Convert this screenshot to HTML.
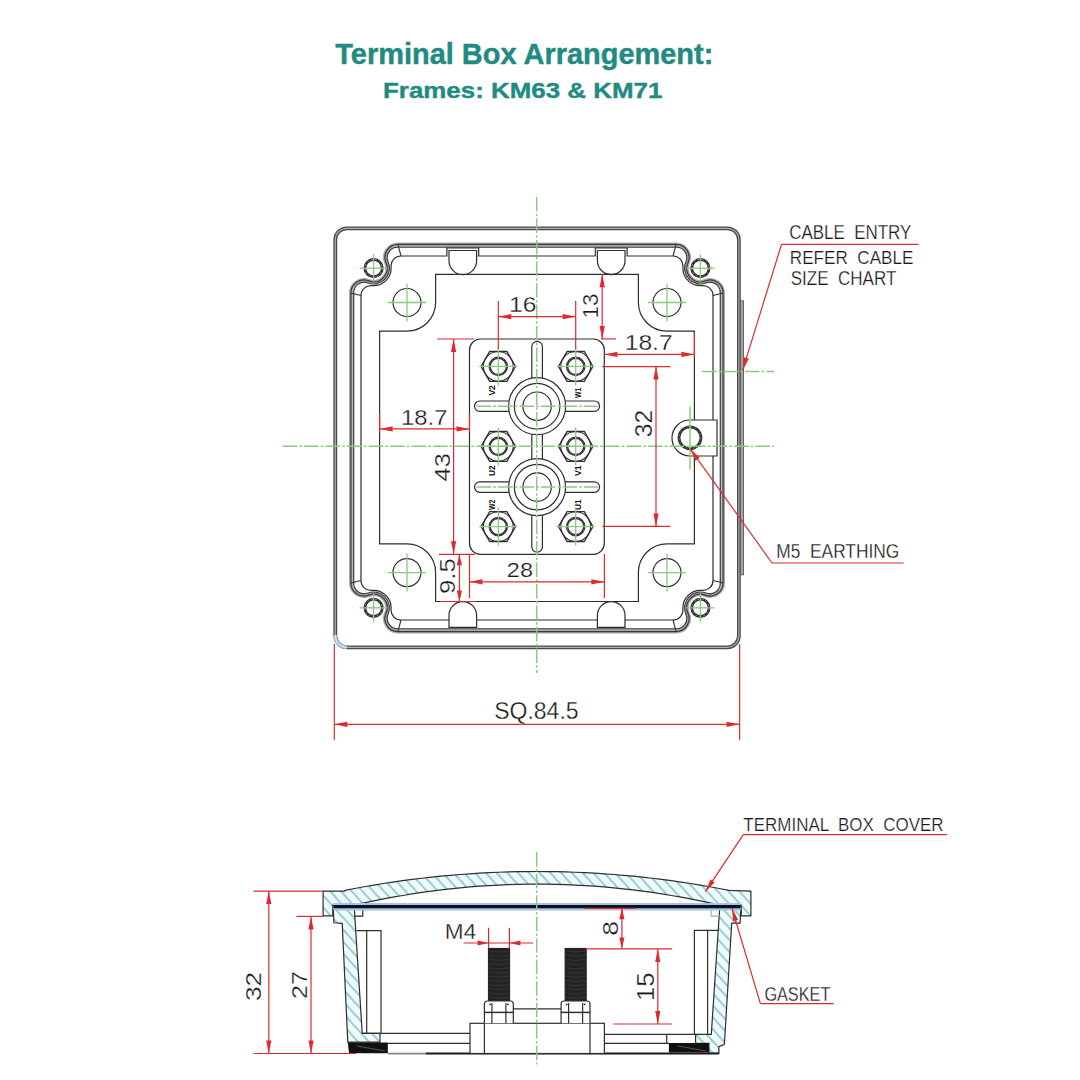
<!DOCTYPE html><html><head><meta charset="utf-8"><style>html,body{margin:0;padding:0;background:#fff;overflow:hidden;width:1080px;height:1080px}svg{display:block}</style></head><body>
<svg width="1080" height="1080" viewBox="0 0 1080 1080">
<defs><pattern id="hat" patternUnits="userSpaceOnUse" width="8" height="9" patternTransform="rotate(-42)"><rect width="8" height="9" fill="#effbfb"/><line x1="1" y1="0" x2="1" y2="9" stroke="#52aab4" stroke-width="1.1"/></pattern></defs>
<rect width="1080" height="1080" fill="#fff"/>
<text x="335.3" y="63.6" font-family="Liberation Sans" font-size="29.58" font-weight="bold" fill="#1f8b82" text-anchor="start" style="white-space:pre" textLength="377.98" lengthAdjust="spacingAndGlyphs" stroke="#1f8b82" stroke-width="0.45" stroke-linejoin="round">Terminal Box Arrangement:</text>
<text x="383.04" y="98.2" font-family="Liberation Sans" font-size="22.87" font-weight="bold" fill="#1f8b82" text-anchor="start" style="white-space:pre" textLength="279.27" lengthAdjust="spacingAndGlyphs" stroke="#1f8b82" stroke-width="0.4" stroke-linejoin="round">Frames: KM63 &amp; KM71</text>
<rect x="335.3" y="228.3" width="403.6" height="419" rx="11.5" fill="none" stroke="#4a4a4a" stroke-width="3.8"/>
<rect x="335.3" y="228.3" width="403.6" height="419" rx="11.5" fill="none" stroke="#b0b0b0" stroke-width="1.2"/>
<path d="M 335.3 635 A 11.5 11.5 0 0 0 346.8 647.3" fill="none" stroke="#a9c9e4" stroke-width="3.2"/>
<path d="M 335.3 635 A 11.5 11.5 0 0 0 346.8 647.3" fill="none" stroke="#cfe3f3" stroke-width="1.3"/>
<rect x="740.6" y="300.8" width="2.9" height="274" fill="#a8a8a8" stroke="#555" stroke-width="0.9"/>
<path d="M 676.09 244.4 L 397.91 244.4 A 13 13 0 0 0 386.03 262.68 A 13.6 13.6 0 0 1 368.64 280.86 A 13 13 0 0 0 350.9 292.97 L 350.9 583.03 A 13 13 0 0 0 368.64 595.14 A 13.6 13.6 0 0 1 386.03 613.32 A 13 13 0 0 0 397.91 631.6 L 676.09 631.6 A 13 13 0 0 0 687.97 613.32 A 13.6 13.6 0 0 1 705.36 595.14 A 13 13 0 0 0 723.1 583.03 L 723.1 292.97 A 13 13 0 0 0 705.36 280.86 A 13.6 13.6 0 0 1 687.97 262.68 A 13 13 0 0 0 676.09 244.4 Z" fill="none" stroke="#aaa" stroke-width="3.8"/>
<path d="M 676.09 244.4 L 397.91 244.4 A 13 13 0 0 0 386.03 262.68 A 13.6 13.6 0 0 1 368.64 280.86 A 13 13 0 0 0 350.9 292.97 L 350.9 583.03 A 13 13 0 0 0 368.64 595.14 A 13.6 13.6 0 0 1 386.03 613.32 A 13 13 0 0 0 397.91 631.6 L 676.09 631.6 A 13 13 0 0 0 687.97 613.32 A 13.6 13.6 0 0 1 705.36 595.14 A 13 13 0 0 0 723.1 583.03 L 723.1 292.97 A 13 13 0 0 0 705.36 280.86 A 13.6 13.6 0 0 1 687.97 262.68 A 13 13 0 0 0 676.09 244.4 Z" fill="none" stroke="#3a3a3a" stroke-width="1.2"/>
<path d="M 676.29 247.2 L 397.71 247.2 A 10.5 10.5 0 0 0 388.09 261.89 A 15.8 15.8 0 0 1 367.95 282.96 A 10.5 10.5 0 0 0 353.7 292.76 L 353.7 583.24 A 10.5 10.5 0 0 0 367.95 593.04 A 15.8 15.8 0 0 1 388.09 614.11 A 10.5 10.5 0 0 0 397.71 628.8 L 676.29 628.8 A 10.5 10.5 0 0 0 685.91 614.11 A 15.8 15.8 0 0 1 706.05 593.04 A 10.5 10.5 0 0 0 720.3 583.24 L 720.3 292.76 A 10.5 10.5 0 0 0 706.05 282.96 A 15.8 15.8 0 0 1 685.91 261.89 A 10.5 10.5 0 0 0 676.29 247.2 Z" fill="none" stroke="#3a3a3a" stroke-width="1.2"/>
<path d="M 672.99 256 L 401.01 256 A 10 10 0 0 0 391.04 266.8 A 17.5 17.5 0 0 1 371.95 285.62 A 10 10 0 0 0 361 295.58 L 361 580.42 A 10 10 0 0 0 371.95 590.38 A 17.5 17.5 0 0 1 391.04 609.2 A 10 10 0 0 0 401.01 620 L 672.99 620 A 10 10 0 0 0 682.96 609.2 A 17.5 17.5 0 0 1 702.05 590.38 A 10 10 0 0 0 713 580.42 L 713 295.58 A 10 10 0 0 0 702.05 285.62 A 17.5 17.5 0 0 1 682.96 266.8 A 10 10 0 0 0 672.99 256 Z" fill="none" stroke="#2e2e2e" stroke-width="1.2"/>
<line x1="397.91" y1="244.4" x2="401.01" y2="256" stroke="#2e2e2e" stroke-width="1.1" />
<line x1="350.9" y1="292.97" x2="361" y2="295.58" stroke="#2e2e2e" stroke-width="1.1" />
<line x1="397.91" y1="631.6" x2="401.01" y2="620" stroke="#2e2e2e" stroke-width="1.1" />
<line x1="350.9" y1="583.03" x2="361" y2="580.42" stroke="#2e2e2e" stroke-width="1.1" />
<line x1="676.09" y1="244.4" x2="672.99" y2="256" stroke="#2e2e2e" stroke-width="1.1" />
<line x1="723.1" y1="292.97" x2="713" y2="295.58" stroke="#2e2e2e" stroke-width="1.1" />
<line x1="676.09" y1="631.6" x2="672.99" y2="620" stroke="#2e2e2e" stroke-width="1.1" />
<line x1="723.1" y1="583.03" x2="713" y2="580.42" stroke="#2e2e2e" stroke-width="1.1" />
<rect x="446.9" y="248" width="31.8" height="8.5" fill="#fff"/>
<path d="M 446.9 256 V 248 H 478.7 V 256" fill="none" stroke="#2e2e2e" stroke-width="1.2"/>
<path d="M 449 250.5 H 476.6 V 260.8 A 13.8 13.8 0 0 1 449 260.8 Z" fill="#fff" stroke="#2e2e2e" stroke-width="1.2"/>
<path d="M 449 627.3 V 615.4 A 13.8 13.8 0 0 1 476.6 615.4 V 627.3 Z" fill="#fff" stroke="#2e2e2e" stroke-width="1.2"/>
<rect x="595.3" y="248" width="31.8" height="8.5" fill="#fff"/>
<path d="M 595.3 256 V 248 H 627.1 V 256" fill="none" stroke="#2e2e2e" stroke-width="1.2"/>
<path d="M 597.4 250.5 H 625 V 260.8 A 13.8 13.8 0 0 1 597.4 260.8 Z" fill="#fff" stroke="#2e2e2e" stroke-width="1.2"/>
<path d="M 597.4 627.3 V 615.4 A 13.8 13.8 0 0 1 625 615.4 V 627.3 Z" fill="#fff" stroke="#2e2e2e" stroke-width="1.2"/>
<path d="M 435.6 274.3 H 638.4 V 302.5 A 28.6 28.6 0 0 0 667 331.1 H 694.4 V 543.9 H 667 A 28.6 28.6 0 0 0 638.4 572.5 V 601.5 H 435.6 V 572.5 A 28.6 28.6 0 0 0 407 543.9 H 379.6 V 331.1 H 407 A 28.6 28.6 0 0 0 435.6 302.5 Z" fill="none" stroke="#2e2e2e" stroke-width="1.2"/>
<path d="M 717 420 H 690 A 18 18 0 0 0 672 438 A 18 18 0 0 0 690 456 H 717 Z" fill="#fff" stroke="#2e2e2e" stroke-width="1.2"/>
<circle cx="690" cy="437.8" r="11" fill="none" stroke="#2e2e2e" stroke-width="2.8"/>
<circle cx="690" cy="437.8" r="11" fill="none" stroke="#999" stroke-width="0.7" stroke-dasharray="2 2"/>
<circle cx="407" cy="302.5" r="14" fill="none" stroke="#2e2e2e" stroke-width="1.2"/>
<circle cx="667" cy="302.5" r="14" fill="none" stroke="#2e2e2e" stroke-width="1.2"/>
<circle cx="407" cy="572.6" r="14" fill="none" stroke="#2e2e2e" stroke-width="1.2"/>
<circle cx="667" cy="572.6" r="14" fill="none" stroke="#2e2e2e" stroke-width="1.2"/>
<circle cx="373.6" cy="268.2" r="8.7" fill="none" stroke="#2e2e2e" stroke-width="2.8"/>
<circle cx="373.6" cy="268.2" r="8.7" fill="none" stroke="#bbb" stroke-width="0.7" stroke-dasharray="2 2.2"/>
<circle cx="700.4" cy="268.2" r="8.7" fill="none" stroke="#2e2e2e" stroke-width="2.8"/>
<circle cx="700.4" cy="268.2" r="8.7" fill="none" stroke="#bbb" stroke-width="0.7" stroke-dasharray="2 2.2"/>
<circle cx="373.6" cy="607.8" r="8.7" fill="none" stroke="#2e2e2e" stroke-width="2.8"/>
<circle cx="373.6" cy="607.8" r="8.7" fill="none" stroke="#bbb" stroke-width="0.7" stroke-dasharray="2 2.2"/>
<circle cx="700.4" cy="607.8" r="8.7" fill="none" stroke="#2e2e2e" stroke-width="2.8"/>
<circle cx="700.4" cy="607.8" r="8.7" fill="none" stroke="#bbb" stroke-width="0.7" stroke-dasharray="2 2.2"/>
<rect x="469.5" y="339" width="134.8" height="215.3" rx="11" fill="#fff" stroke="#2e2e2e" stroke-width="1.2"/>
<rect x="531.8" y="341.3" width="10.6" height="48.7" rx="5.3" fill="#fff" stroke="#2e2e2e" stroke-width="1.2"/>
<rect x="531.8" y="420" width="10.6" height="50" rx="5.3" fill="#fff" stroke="#2e2e2e" stroke-width="1.2"/>
<rect x="531.8" y="500" width="10.6" height="52.2" rx="5.3" fill="#fff" stroke="#2e2e2e" stroke-width="1.2"/>
<rect x="474.5" y="401" width="45.5" height="10.4" rx="5.2" fill="#fff" stroke="#2e2e2e" stroke-width="1.2"/>
<rect x="554" y="401" width="45.6" height="10.4" rx="5.2" fill="#fff" stroke="#2e2e2e" stroke-width="1.2"/>
<rect x="474.5" y="481.9" width="45.5" height="10.4" rx="5.2" fill="#fff" stroke="#2e2e2e" stroke-width="1.2"/>
<rect x="554" y="481.9" width="45.6" height="10.4" rx="5.2" fill="#fff" stroke="#2e2e2e" stroke-width="1.2"/>
<circle cx="537.1" cy="406.2" r="28.5" fill="#fff" stroke="#2e2e2e" stroke-width="1.2"/>
<circle cx="537.1" cy="406.2" r="22.8" fill="none" stroke="#2e2e2e" stroke-width="1.2"/>
<circle cx="537.1" cy="406.2" r="14.2" fill="none" stroke="#2e2e2e" stroke-width="1.2"/>
<circle cx="537.1" cy="487.1" r="28.5" fill="#fff" stroke="#2e2e2e" stroke-width="1.2"/>
<circle cx="537.1" cy="487.1" r="22.8" fill="none" stroke="#2e2e2e" stroke-width="1.2"/>
<circle cx="537.1" cy="487.1" r="14.2" fill="none" stroke="#2e2e2e" stroke-width="1.2"/>
<polygon points="515.5,366.4 506.9,381.3 489.7,381.3 481.1,366.4 489.7,351.5 506.9,351.5" fill="#fff" stroke="#2e2e2e" stroke-width="1.3"/>
<circle cx="498.3" cy="366.4" r="8.6" fill="none" stroke="#2e2e2e" stroke-width="2.4"/>
<circle cx="498.3" cy="366.4" r="8.6" fill="none" stroke="#999" stroke-width="0.6" stroke-dasharray="1.5 1.5"/>
<circle cx="498.3" cy="366.4" r="14.9" fill="none" stroke="#2e2e2e" stroke-width="1.1"/>
<polygon points="592.9,366.4 584.3,381.3 567.1,381.3 558.5,366.4 567.1,351.5 584.3,351.5" fill="#fff" stroke="#2e2e2e" stroke-width="1.3"/>
<circle cx="575.7" cy="366.4" r="8.6" fill="none" stroke="#2e2e2e" stroke-width="2.4"/>
<circle cx="575.7" cy="366.4" r="8.6" fill="none" stroke="#999" stroke-width="0.6" stroke-dasharray="1.5 1.5"/>
<circle cx="575.7" cy="366.4" r="14.9" fill="none" stroke="#2e2e2e" stroke-width="1.1"/>
<polygon points="515.5,446.4 506.9,461.3 489.7,461.3 481.1,446.4 489.7,431.5 506.9,431.5" fill="#fff" stroke="#2e2e2e" stroke-width="1.3"/>
<circle cx="498.3" cy="446.4" r="8.6" fill="none" stroke="#2e2e2e" stroke-width="2.4"/>
<circle cx="498.3" cy="446.4" r="8.6" fill="none" stroke="#999" stroke-width="0.6" stroke-dasharray="1.5 1.5"/>
<circle cx="498.3" cy="446.4" r="14.9" fill="none" stroke="#2e2e2e" stroke-width="1.1"/>
<polygon points="592.9,446.4 584.3,461.3 567.1,461.3 558.5,446.4 567.1,431.5 584.3,431.5" fill="#fff" stroke="#2e2e2e" stroke-width="1.3"/>
<circle cx="575.7" cy="446.4" r="8.6" fill="none" stroke="#2e2e2e" stroke-width="2.4"/>
<circle cx="575.7" cy="446.4" r="8.6" fill="none" stroke="#999" stroke-width="0.6" stroke-dasharray="1.5 1.5"/>
<circle cx="575.7" cy="446.4" r="14.9" fill="none" stroke="#2e2e2e" stroke-width="1.1"/>
<polygon points="515.5,526.6 506.9,541.5 489.7,541.5 481.1,526.6 489.7,511.7 506.9,511.7" fill="#fff" stroke="#2e2e2e" stroke-width="1.3"/>
<circle cx="498.3" cy="526.6" r="8.6" fill="none" stroke="#2e2e2e" stroke-width="2.4"/>
<circle cx="498.3" cy="526.6" r="8.6" fill="none" stroke="#999" stroke-width="0.6" stroke-dasharray="1.5 1.5"/>
<circle cx="498.3" cy="526.6" r="14.9" fill="none" stroke="#2e2e2e" stroke-width="1.1"/>
<polygon points="592.9,526.6 584.3,541.5 567.1,541.5 558.5,526.6 567.1,511.7 584.3,511.7" fill="#fff" stroke="#2e2e2e" stroke-width="1.3"/>
<circle cx="575.7" cy="526.6" r="8.6" fill="none" stroke="#2e2e2e" stroke-width="2.4"/>
<circle cx="575.7" cy="526.6" r="8.6" fill="none" stroke="#999" stroke-width="0.6" stroke-dasharray="1.5 1.5"/>
<circle cx="575.7" cy="526.6" r="14.9" fill="none" stroke="#2e2e2e" stroke-width="1.1"/>
<text x="494.8" y="395.6" font-family="Liberation Sans" font-size="9.5" font-weight="bold" fill="#111" text-anchor="start" style="white-space:pre" transform="rotate(-90 494.8 395.6)" textLength="10.5" lengthAdjust="spacingAndGlyphs" >V2</text>
<text x="581.2" y="398" font-family="Liberation Sans" font-size="9.5" font-weight="bold" fill="#111" text-anchor="start" style="white-space:pre" transform="rotate(-90 581.2 398)" textLength="10.5" lengthAdjust="spacingAndGlyphs" >W1</text>
<text x="494.8" y="476" font-family="Liberation Sans" font-size="9.5" font-weight="bold" fill="#111" text-anchor="start" style="white-space:pre" transform="rotate(-90 494.8 476)" textLength="10.5" lengthAdjust="spacingAndGlyphs" >U2</text>
<text x="581.2" y="476" font-family="Liberation Sans" font-size="9.5" font-weight="bold" fill="#111" text-anchor="start" style="white-space:pre" transform="rotate(-90 581.2 476)" textLength="10.5" lengthAdjust="spacingAndGlyphs" >V1</text>
<text x="494.8" y="510" font-family="Liberation Sans" font-size="9.5" font-weight="bold" fill="#111" text-anchor="start" style="white-space:pre" transform="rotate(-90 494.8 510)" textLength="10.5" lengthAdjust="spacingAndGlyphs" >W2</text>
<text x="581.2" y="510" font-family="Liberation Sans" font-size="9.5" font-weight="bold" fill="#111" text-anchor="start" style="white-space:pre" transform="rotate(-90 581.2 510)" textLength="10.5" lengthAdjust="spacingAndGlyphs" >U1</text>
<line x1="536.7" y1="197" x2="536.7" y2="673" stroke="#8cc882" stroke-width="1.45" stroke-dasharray="14.5 2.2 2.6 2.2"/>
<line x1="282.6" y1="446.3" x2="774" y2="446.3" stroke="#8cc882" stroke-width="1.45" stroke-dasharray="14.5 2.2 2.6 2.2"/>
<line x1="702" y1="371.5" x2="774" y2="371.5" stroke="#8cc882" stroke-width="1.45" stroke-dasharray="14.5 2.2 2.6 2.2"/>
<line x1="479.3" y1="366.4" x2="517.3" y2="366.4" stroke="#8cc882" stroke-width="1.3"/>
<line x1="498.3" y1="347.4" x2="498.3" y2="385.4" stroke="#8cc882" stroke-width="1.3"/>
<line x1="556.7" y1="366.4" x2="594.7" y2="366.4" stroke="#8cc882" stroke-width="1.3"/>
<line x1="575.7" y1="347.4" x2="575.7" y2="385.4" stroke="#8cc882" stroke-width="1.3"/>
<line x1="479.3" y1="446.4" x2="517.3" y2="446.4" stroke="#8cc882" stroke-width="1.3"/>
<line x1="498.3" y1="427.4" x2="498.3" y2="465.4" stroke="#8cc882" stroke-width="1.3"/>
<line x1="556.7" y1="446.4" x2="594.7" y2="446.4" stroke="#8cc882" stroke-width="1.3"/>
<line x1="575.7" y1="427.4" x2="575.7" y2="465.4" stroke="#8cc882" stroke-width="1.3"/>
<line x1="479.3" y1="526.6" x2="517.3" y2="526.6" stroke="#8cc882" stroke-width="1.3"/>
<line x1="498.3" y1="507.6" x2="498.3" y2="545.6" stroke="#8cc882" stroke-width="1.3"/>
<line x1="556.7" y1="526.6" x2="594.7" y2="526.6" stroke="#8cc882" stroke-width="1.3"/>
<line x1="575.7" y1="507.6" x2="575.7" y2="545.6" stroke="#8cc882" stroke-width="1.3"/>
<line x1="388" y1="302.5" x2="426" y2="302.5" stroke="#8cc882" stroke-width="1.3"/>
<line x1="407" y1="283.5" x2="407" y2="321.5" stroke="#8cc882" stroke-width="1.3"/>
<line x1="648" y1="302.5" x2="686" y2="302.5" stroke="#8cc882" stroke-width="1.3"/>
<line x1="667" y1="283.5" x2="667" y2="321.5" stroke="#8cc882" stroke-width="1.3"/>
<line x1="388" y1="572.6" x2="426" y2="572.6" stroke="#8cc882" stroke-width="1.3"/>
<line x1="407" y1="553.6" x2="407" y2="591.6" stroke="#8cc882" stroke-width="1.3"/>
<line x1="648" y1="572.6" x2="686" y2="572.6" stroke="#8cc882" stroke-width="1.3"/>
<line x1="667" y1="553.6" x2="667" y2="591.6" stroke="#8cc882" stroke-width="1.3"/>
<line x1="359.6" y1="268.2" x2="387.6" y2="268.2" stroke="#8cc882" stroke-width="1.3"/>
<line x1="373.6" y1="254.2" x2="373.6" y2="282.2" stroke="#8cc882" stroke-width="1.3"/>
<line x1="686.4" y1="268.2" x2="714.4" y2="268.2" stroke="#8cc882" stroke-width="1.3"/>
<line x1="700.4" y1="254.2" x2="700.4" y2="282.2" stroke="#8cc882" stroke-width="1.3"/>
<line x1="359.6" y1="607.8" x2="387.6" y2="607.8" stroke="#8cc882" stroke-width="1.3"/>
<line x1="373.6" y1="593.8" x2="373.6" y2="621.8" stroke="#8cc882" stroke-width="1.3"/>
<line x1="686.4" y1="607.8" x2="714.4" y2="607.8" stroke="#8cc882" stroke-width="1.3"/>
<line x1="700.4" y1="593.8" x2="700.4" y2="621.8" stroke="#8cc882" stroke-width="1.3"/>
<line x1="537.1" y1="406.2" x2="537.1" y2="406.2" stroke="#8cc882" stroke-width="1.3"/>
<line x1="537.1" y1="406.2" x2="537.1" y2="406.2" stroke="#8cc882" stroke-width="1.3"/>
<line x1="476.5" y1="406.2" x2="598" y2="406.2" stroke="#8cc882" stroke-width="1.5" stroke-dasharray="14.5 2.2 2.6 2.2"/>
<line x1="537.1" y1="487.1" x2="537.1" y2="487.1" stroke="#8cc882" stroke-width="1.3"/>
<line x1="537.1" y1="487.1" x2="537.1" y2="487.1" stroke="#8cc882" stroke-width="1.3"/>
<line x1="476.5" y1="487.1" x2="598" y2="487.1" stroke="#8cc882" stroke-width="1.5" stroke-dasharray="14.5 2.2 2.6 2.2"/>
<line x1="690" y1="406.5" x2="690" y2="469.5" stroke="#8cc882" stroke-width="1.5" />
<line x1="498.3" y1="301" x2="498.3" y2="349" stroke="#dd2a2f" stroke-width="1.2" />
<line x1="575.7" y1="301" x2="575.7" y2="349" stroke="#dd2a2f" stroke-width="1.2" />
<line x1="498.3" y1="316.7" x2="575.7" y2="316.7" stroke="#dd2a2f" stroke-width="1.2" />
<polygon points="498.3,316.7 511.3,314.1 511.3,319.3" fill="#dd2a2f"/>
<polygon points="575.7,316.7 562.7,319.3 562.7,314.1" fill="#dd2a2f"/>
<text x="509.03" y="312.2" stroke="#fff" stroke-width="0.25833333333333336" font-family="Liberation Sans" font-size="21.53" font-weight="normal" fill="#1a1a1a" text-anchor="start" style="white-space:pre" textLength="27.37" lengthAdjust="spacingAndGlyphs" >16</text>
<line x1="602.2" y1="274.3" x2="602.2" y2="338.9" stroke="#dd2a2f" stroke-width="1.2" />
<line x1="601" y1="338.9" x2="616" y2="338.9" stroke="#dd2a2f" stroke-width="1.2" />
<polygon points="602.2,274.3 604.8,287.3 599.6,287.3" fill="#dd2a2f"/>
<polygon points="602.2,338.9 599.6,325.9 604.8,325.9" fill="#dd2a2f"/>
<text x="597.8" y="318.48" stroke="#fff" stroke-width="0.26333333333333253" font-family="Liberation Sans" font-size="21.94" font-weight="normal" fill="#1a1a1a" text-anchor="start" style="white-space:pre" transform="rotate(-90 597.8 318.48)" textLength="24.81" lengthAdjust="spacingAndGlyphs" >13</text>
<line x1="604.4" y1="354.4" x2="694.4" y2="354.4" stroke="#dd2a2f" stroke-width="1.2" />
<line x1="694.4" y1="332" x2="694.4" y2="357" stroke="#dd2a2f" stroke-width="1.2" />
<polygon points="604.4,354.4 617.4,351.8 617.4,357" fill="#dd2a2f"/>
<polygon points="694.4,354.4 681.4,357 681.4,351.8" fill="#dd2a2f"/>
<text x="624.73" y="350" stroke="#fff" stroke-width="0.26000000000000034" font-family="Liberation Sans" font-size="21.67" font-weight="normal" fill="#1a1a1a" text-anchor="start" style="white-space:pre" textLength="47.91" lengthAdjust="spacingAndGlyphs" >18.7</text>
<line x1="602.3" y1="366.6" x2="670.5" y2="366.6" stroke="#dd2a2f" stroke-width="1.2" />
<line x1="602.3" y1="526.4" x2="670.5" y2="526.4" stroke="#dd2a2f" stroke-width="1.2" />
<line x1="656" y1="366.6" x2="656" y2="526.4" stroke="#dd2a2f" stroke-width="1.2" />
<polygon points="656,366.6 658.6,379.6 653.4,379.6" fill="#dd2a2f"/>
<polygon points="656,526.4 653.4,513.4 658.6,513.4" fill="#dd2a2f"/>
<text x="652.4" y="437.18" stroke="#fff" stroke-width="0.2783333333333322" font-family="Liberation Sans" font-size="23.19" font-weight="normal" fill="#1a1a1a" text-anchor="start" style="white-space:pre" transform="rotate(-90 652.4 437.18)" textLength="27.28" lengthAdjust="spacingAndGlyphs" >32</text>
<line x1="379.6" y1="428.9" x2="469.5" y2="428.9" stroke="#dd2a2f" stroke-width="1.2" />
<line x1="379.6" y1="414" x2="379.6" y2="432" stroke="#dd2a2f" stroke-width="1.2" />
<line x1="469.5" y1="414" x2="469.5" y2="432" stroke="#dd2a2f" stroke-width="1.2" />
<polygon points="379.6,428.9 392.6,426.3 392.6,431.5" fill="#dd2a2f"/>
<polygon points="469.5,428.9 456.5,431.5 456.5,426.3" fill="#dd2a2f"/>
<text x="401.1" y="425" stroke="#fff" stroke-width="0.27499999999999997" font-family="Liberation Sans" font-size="22.92" font-weight="normal" fill="#1a1a1a" text-anchor="start" style="white-space:pre" textLength="46.29" lengthAdjust="spacingAndGlyphs" >18.7</text>
<line x1="437" y1="339" x2="474" y2="339" stroke="#dd2a2f" stroke-width="1.2" />
<line x1="453.6" y1="339" x2="453.6" y2="554.3" stroke="#dd2a2f" stroke-width="1.2" />
<polygon points="453.6,339 456.2,352 451,352" fill="#dd2a2f"/>
<polygon points="453.6,554.3 451,541.3 456.2,541.3" fill="#dd2a2f"/>
<line x1="439" y1="554.3" x2="475" y2="554.3" stroke="#dd2a2f" stroke-width="1.2" />
<text x="449.7" y="481.42" stroke="#fff" stroke-width="0.26166666666666644" font-family="Liberation Sans" font-size="21.81" font-weight="normal" fill="#1a1a1a" text-anchor="start" style="white-space:pre" transform="rotate(-90 449.7 481.42)" textLength="28.24" lengthAdjust="spacingAndGlyphs" >43</text>
<line x1="459.4" y1="554.3" x2="459.4" y2="601.5" stroke="#dd2a2f" stroke-width="1.2" />
<polygon points="459.4,554.3 462,565.3 456.8,565.3" fill="#dd2a2f"/>
<polygon points="459.4,601.5 456.8,590.5 462,590.5" fill="#dd2a2f"/>
<line x1="440" y1="601.5" x2="475.6" y2="601.5" stroke="#dd2a2f" stroke-width="1.0" />
<text x="455.5" y="594.03" stroke="#fff" stroke-width="0.27499999999999997" font-family="Liberation Sans" font-size="22.92" font-weight="normal" fill="#1a1a1a" text-anchor="start" style="white-space:pre" transform="rotate(-90 455.5 594.03)" textLength="35.82" lengthAdjust="spacingAndGlyphs" >9.5</text>
<line x1="469.5" y1="554" x2="469.5" y2="598" stroke="#dd2a2f" stroke-width="1.2" />
<line x1="604.4" y1="554" x2="604.4" y2="598" stroke="#dd2a2f" stroke-width="1.2" />
<line x1="469.5" y1="581.8" x2="604.4" y2="581.8" stroke="#dd2a2f" stroke-width="1.2" />
<polygon points="469.5,581.8 482.5,579.2 482.5,584.4" fill="#dd2a2f"/>
<polygon points="604.4,581.8 591.4,584.4 591.4,579.2" fill="#dd2a2f"/>
<text x="506.86" y="576.7" stroke="#fff" stroke-width="0.24166666666666667" font-family="Liberation Sans" font-size="20.14" font-weight="normal" fill="#1a1a1a" text-anchor="start" style="white-space:pre" textLength="26.1" lengthAdjust="spacingAndGlyphs" >28</text>
<line x1="334.3" y1="644" x2="334.3" y2="739.8" stroke="#dd2a2f" stroke-width="1.2" />
<line x1="739.6" y1="644" x2="739.6" y2="739.8" stroke="#dd2a2f" stroke-width="1.2" />
<line x1="334.3" y1="724.3" x2="739.6" y2="724.3" stroke="#dd2a2f" stroke-width="1.2" />
<polygon points="334.3,724.3 347.3,721.7 347.3,726.9" fill="#dd2a2f"/>
<polygon points="739.6,724.3 726.6,726.9 726.6,721.7" fill="#dd2a2f"/>
<text x="494.16" y="718.9" stroke="#fff" stroke-width="0.2866666666666655" font-family="Liberation Sans" font-size="23.89" font-weight="normal" fill="#1a1a1a" text-anchor="start" style="white-space:pre" textLength="84.42" lengthAdjust="spacingAndGlyphs" >SQ.84.5</text>
<line x1="781.5" y1="244.4" x2="918.5" y2="244.4" stroke="#dd2a2f" stroke-width="1.2" />
<line x1="781.5" y1="244.4" x2="742.6" y2="370.4" stroke="#dd2a2f" stroke-width="1.2" />
<polygon points="742.6,370.4 743.95,357.21 748.92,358.75" fill="#dd2a2f"/>
<text x="789.15" y="239.4" stroke="#fff" stroke-width="0.25" font-family="Liberation Sans" font-size="20" font-weight="normal" fill="#1a1a1a" text-anchor="start" style="white-space:pre" textLength="122.2" lengthAdjust="spacingAndGlyphs" >CABLE  ENTRY</text>
<text x="789.79" y="264" stroke="#fff" stroke-width="0.23928571428571438" font-family="Liberation Sans" font-size="19.14" font-weight="normal" fill="#1a1a1a" text-anchor="start" style="white-space:pre" textLength="123.63" lengthAdjust="spacingAndGlyphs" >REFER  CABLE</text>
<text x="790.65" y="284.6" stroke="#fff" stroke-width="0.25" font-family="Liberation Sans" font-size="20" font-weight="normal" fill="#1a1a1a" text-anchor="start" style="white-space:pre" textLength="105.73" lengthAdjust="spacingAndGlyphs" >SIZE  CHART</text>
<line x1="772" y1="563" x2="903.7" y2="563" stroke="#dd2a2f" stroke-width="1.2" />
<line x1="772" y1="563" x2="690" y2="448.6" stroke="#dd2a2f" stroke-width="1.2" />
<polygon points="690,448.6 699.69,457.65 695.46,460.68" fill="#dd2a2f"/>
<text x="776.27" y="558.3" stroke="#fff" stroke-width="0.25357142857142734" font-family="Liberation Sans" font-size="20.29" font-weight="normal" fill="#1a1a1a" text-anchor="start" style="white-space:pre" textLength="123.06" lengthAdjust="spacingAndGlyphs" >M5  EARTHING</text>
<path d="M 323.1 891.1 L 345 891.1 L 345 890.3 L 354.6 888.47 L 364.2 886.73 L 373.8 885.08 L 383.4 883.53 L 393 882.08 L 402.6 880.71 L 412.2 879.44 L 421.8 878.27 L 431.4 877.19 L 441 876.2 L 450.6 875.31 L 460.2 874.51 L 469.8 873.8 L 479.4 873.19 L 489 872.68 L 498.6 872.25 L 508.2 871.92 L 517.8 871.69 L 527.4 871.55 L 537 871.5 L 546.6 871.55 L 556.2 871.69 L 565.8 871.92 L 575.4 872.25 L 585 872.68 L 594.6 873.19 L 604.2 873.8 L 613.8 874.51 L 623.4 875.31 L 633 876.2 L 642.6 877.19 L 652.2 878.27 L 661.8 879.44 L 671.4 880.71 L 681 882.08 L 690.6 883.53 L 700.2 885.08 L 709.8 886.73 L 719.4 888.47 L 729 890.3 L 750.9 891.1 L 750.9 915.9 L 741.2 915.9 L 741.2 905 L 729 904.5 L 719.4 904.5 L 709.8 902.91 L 700.2 900.88 L 690.6 898.96 L 681 897.16 L 671.4 895.48 L 661.8 893.91 L 652.2 892.46 L 642.6 891.13 L 633 889.91 L 623.4 888.8 L 613.8 887.82 L 604.2 886.94 L 594.6 886.19 L 585 885.55 L 575.4 885.03 L 565.8 884.62 L 556.2 884.33 L 546.6 884.16 L 537 884.1 L 527.4 884.16 L 517.8 884.33 L 508.2 884.62 L 498.6 885.03 L 489 885.55 L 479.4 886.19 L 469.8 886.94 L 460.2 887.82 L 450.6 888.8 L 441 889.91 L 431.4 891.13 L 421.8 892.46 L 412.2 893.91 L 402.6 895.48 L 393 897.16 L 383.4 898.96 L 373.8 900.88 L 364.2 902.91 L 354.6 904.5 L 345 904.5 L 332.8 905 L 332.8 915.9 L 323.1 915.9 Z" fill="url(#hat)" stroke="#2e2e2e" stroke-width="1.2" stroke-linejoin="round"/>
<polygon points="333.3,909.5 333.9,922.8 342.2,923.3 347.8,1042.2 380,1042.2 380,1033.3 362.2,1033.3 354.4,909.5" fill="url(#hat)" stroke="#2e2e2e" stroke-width="1.2"/>
<polygon points="740.7,909.5 740.1,923.2 731.7,923.2 724.4,1044.4 718.9,1046.7 718.9,1053.3 708.9,1053.3 708.9,1043.3 695.6,1043.3 695.6,1034.4 711.3,1034.3 719.6,909.5" fill="url(#hat)" stroke="#2e2e2e" stroke-width="1.2"/>
<path d="M 354.4 916.1 H 362.8 V 909.5" fill="none" stroke="#2e2e2e" stroke-width="1.2"/>
<path d="M 719.6 916.1 H 711.2 V 909.5" fill="none" stroke="#8fb3d6" stroke-width="1.2"/>
<line x1="333.3" y1="906.7" x2="740.7" y2="906.7" stroke="#a9c3e0" stroke-width="7.5"/>
<line x1="333.3" y1="906.7" x2="740.7" y2="906.7" stroke="#0b1024" stroke-width="3.2"/>
<path d="M 356.5 930.7 H 381 V 1033.3 M 366.7 930.7 V 1033.3" fill="none" stroke="#2e2e2e" stroke-width="1.2"/>
<path d="M 718.6 930.3 H 694.4 V 1034.4 M 707.6 930.3 V 1034.4" fill="none" stroke="#2e2e2e" stroke-width="1.2"/>
<line x1="362.2" y1="1033.3" x2="470" y2="1033.3" stroke="#2e2e2e" stroke-width="1.2" />
<line x1="387.8" y1="1043.3" x2="470" y2="1043.3" stroke="#2e2e2e" stroke-width="1.2" />
<line x1="604.4" y1="1034.4" x2="695.6" y2="1034.4" stroke="#2e2e2e" stroke-width="1.2" />
<line x1="604.4" y1="1043.3" x2="668.9" y2="1043.3" stroke="#2e2e2e" stroke-width="1.2" />
<line x1="666.7" y1="1034.4" x2="666.7" y2="1043.3" stroke="#2e2e2e" stroke-width="1.2" />
<line x1="387.8" y1="1053.6" x2="425.6" y2="1053.6" stroke="#888" stroke-width="1.6" />
<line x1="425.6" y1="1053.6" x2="718.9" y2="1053.6" stroke="#1a1a1a" stroke-width="2.0" />
<polygon points="347.8,1042.5 387.8,1042.5 387.8,1053.3 349,1053.3" fill="#111"/>
<line x1="357" y1="1046" x2="385" y2="1051" stroke="#666" stroke-width="0.8"/>
<polygon points="668.9,1043 708.9,1043 708.9,1052.5 668.9,1052.5" fill="#111"/>
<line x1="678" y1="1046" x2="706" y2="1051" stroke="#666" stroke-width="0.8"/>
<rect x="470" y="1023.3" width="134.4" height="30.2" fill="#fff" stroke="#2e2e2e" stroke-width="1.2"/>
<line x1="484.4" y1="1023.3" x2="484.4" y2="1053.5" stroke="#2e2e2e" stroke-width="1.2" />
<line x1="590" y1="1023.3" x2="590" y2="1053.5" stroke="#2e2e2e" stroke-width="1.2" />
<line x1="513.3" y1="1008.9" x2="561.1" y2="1008.9" stroke="#2e2e2e" stroke-width="1.2" />
<path d="M 484.4 1023.3 V 1004 Q 484.4 1001 487.4 1001 H 510.3 Q 513.3 1001 513.3 1004 V 1023.3" fill="#fff" stroke="#2e2e2e" stroke-width="1.2"/>
<line x1="484.1" y1="1012.4" x2="513.6" y2="1012.4" stroke="#2e2e2e" stroke-width="1.5" />
<line x1="491.9" y1="1003" x2="491.9" y2="1023.3" stroke="#2e2e2e" stroke-width="1.2" />
<line x1="505.9" y1="1003" x2="505.9" y2="1023.3" stroke="#2e2e2e" stroke-width="1.2" />
<circle cx="490" cy="1004.3" r="0.9" fill="#222"/><circle cx="508" cy="1004.3" r="0.9" fill="#222"/>
<rect x="487.9" y="947.9" width="22.2" height="53" fill="#252222"/>
<path d="M 488.9 951 Q 499 953 509.1 951" fill="none" stroke="#3d3838" stroke-width="0.8"/>
<path d="M 488.9 955.2 Q 499 957.2 509.1 955.2" fill="none" stroke="#3d3838" stroke-width="0.8"/>
<path d="M 488.9 959.4 Q 499 961.4 509.1 959.4" fill="none" stroke="#3d3838" stroke-width="0.8"/>
<path d="M 488.9 963.6 Q 499 965.6 509.1 963.6" fill="none" stroke="#3d3838" stroke-width="0.8"/>
<path d="M 488.9 967.8 Q 499 969.8 509.1 967.8" fill="none" stroke="#3d3838" stroke-width="0.8"/>
<path d="M 488.9 972 Q 499 974 509.1 972" fill="none" stroke="#3d3838" stroke-width="0.8"/>
<path d="M 488.9 976.2 Q 499 978.2 509.1 976.2" fill="none" stroke="#3d3838" stroke-width="0.8"/>
<path d="M 488.9 980.4 Q 499 982.4 509.1 980.4" fill="none" stroke="#3d3838" stroke-width="0.8"/>
<path d="M 488.9 984.6 Q 499 986.6 509.1 984.6" fill="none" stroke="#3d3838" stroke-width="0.8"/>
<path d="M 488.9 988.8 Q 499 990.8 509.1 988.8" fill="none" stroke="#3d3838" stroke-width="0.8"/>
<path d="M 488.9 993 Q 499 995 509.1 993" fill="none" stroke="#3d3838" stroke-width="0.8"/>
<path d="M 488.9 997.2 Q 499 999.2 509.1 997.2" fill="none" stroke="#3d3838" stroke-width="0.8"/>
<path d="M 561.1 1023.3 V 1004 Q 561.1 1001 564.1 1001 H 587 Q 590 1001 590 1004 V 1023.3" fill="#fff" stroke="#2e2e2e" stroke-width="1.2"/>
<line x1="560.8" y1="1012.4" x2="590.3" y2="1012.4" stroke="#2e2e2e" stroke-width="1.5" />
<line x1="568.6" y1="1003" x2="568.6" y2="1023.3" stroke="#2e2e2e" stroke-width="1.2" />
<line x1="582.6" y1="1003" x2="582.6" y2="1023.3" stroke="#2e2e2e" stroke-width="1.2" />
<circle cx="566.7" cy="1004.3" r="0.9" fill="#222"/><circle cx="584.7" cy="1004.3" r="0.9" fill="#222"/>
<rect x="564.6" y="947.9" width="22.2" height="53" fill="#252222"/>
<path d="M 565.6 951 Q 575.7 953 585.8 951" fill="none" stroke="#3d3838" stroke-width="0.8"/>
<path d="M 565.6 955.2 Q 575.7 957.2 585.8 955.2" fill="none" stroke="#3d3838" stroke-width="0.8"/>
<path d="M 565.6 959.4 Q 575.7 961.4 585.8 959.4" fill="none" stroke="#3d3838" stroke-width="0.8"/>
<path d="M 565.6 963.6 Q 575.7 965.6 585.8 963.6" fill="none" stroke="#3d3838" stroke-width="0.8"/>
<path d="M 565.6 967.8 Q 575.7 969.8 585.8 967.8" fill="none" stroke="#3d3838" stroke-width="0.8"/>
<path d="M 565.6 972 Q 575.7 974 585.8 972" fill="none" stroke="#3d3838" stroke-width="0.8"/>
<path d="M 565.6 976.2 Q 575.7 978.2 585.8 976.2" fill="none" stroke="#3d3838" stroke-width="0.8"/>
<path d="M 565.6 980.4 Q 575.7 982.4 585.8 980.4" fill="none" stroke="#3d3838" stroke-width="0.8"/>
<path d="M 565.6 984.6 Q 575.7 986.6 585.8 984.6" fill="none" stroke="#3d3838" stroke-width="0.8"/>
<path d="M 565.6 988.8 Q 575.7 990.8 585.8 988.8" fill="none" stroke="#3d3838" stroke-width="0.8"/>
<path d="M 565.6 993 Q 575.7 995 585.8 993" fill="none" stroke="#3d3838" stroke-width="0.8"/>
<path d="M 565.6 997.2 Q 575.7 999.2 585.8 997.2" fill="none" stroke="#3d3838" stroke-width="0.8"/>
<line x1="536.7" y1="852.2" x2="536.7" y2="1064.4" stroke="#8cc882" stroke-width="1.45" stroke-dasharray="14.5 2.2 2.6 2.2"/>
<line x1="253.6" y1="891.1" x2="323.1" y2="891.1" stroke="#dd2a2f" stroke-width="1.2" />
<line x1="253.6" y1="1053.5" x2="355.6" y2="1053.5" stroke="#dd2a2f" stroke-width="1.2" />
<line x1="268.8" y1="891.1" x2="268.8" y2="1053.5" stroke="#dd2a2f" stroke-width="1.2" />
<polygon points="268.8,891.1 271.4,904.1 266.2,904.1" fill="#dd2a2f"/>
<polygon points="268.8,1053.5 266.2,1040.5 271.4,1040.5" fill="#dd2a2f"/>
<text x="261.4" y="1001.05" stroke="#fff" stroke-width="0.2749999999999995" font-family="Liberation Sans" font-size="22.92" font-weight="normal" fill="#1a1a1a" text-anchor="start" style="white-space:pre" transform="rotate(-90 261.4 1001.05)" textLength="29.1" lengthAdjust="spacingAndGlyphs" >32</text>
<line x1="296.4" y1="916.4" x2="323.6" y2="916.4" stroke="#dd2a2f" stroke-width="1.2" />
<line x1="311" y1="916.4" x2="311" y2="1053.5" stroke="#dd2a2f" stroke-width="1.2" />
<polygon points="311,916.4 313.6,929.4 308.4,929.4" fill="#dd2a2f"/>
<polygon points="311,1053.5 308.4,1040.5 313.6,1040.5" fill="#dd2a2f"/>
<text x="307" y="999.01" stroke="#fff" stroke-width="0.27333333333333293" font-family="Liberation Sans" font-size="22.78" font-weight="normal" fill="#1a1a1a" text-anchor="start" style="white-space:pre" transform="rotate(-90 307 999.01)" textLength="28.03" lengthAdjust="spacingAndGlyphs" >27</text>
<line x1="488.6" y1="927.8" x2="488.6" y2="948.6" stroke="#dd2a2f" stroke-width="1.2" />
<line x1="509.4" y1="927.8" x2="509.4" y2="948.6" stroke="#dd2a2f" stroke-width="1.2" />
<line x1="463.6" y1="943" x2="533" y2="943" stroke="#dd2a2f" stroke-width="1.2" />
<polygon points="488.6,943 477.6,945.6 477.6,940.4" fill="#dd2a2f"/>
<polygon points="509.4,943 520.4,940.4 520.4,945.6" fill="#dd2a2f"/>
<text x="444.89" y="938.9" stroke="#fff" stroke-width="0.26000000000000034" font-family="Liberation Sans" font-size="21.67" font-weight="normal" fill="#1a1a1a" text-anchor="start" style="white-space:pre" textLength="31.37" lengthAdjust="spacingAndGlyphs" >M4</text>
<line x1="584.4" y1="908.3" x2="635.8" y2="908.3" stroke="#dd2a2f" stroke-width="1.2" />
<line x1="621.9" y1="908.3" x2="621.9" y2="948.6" stroke="#dd2a2f" stroke-width="1.2" />
<polygon points="621.9,908.3 624.5,919.3 619.3,919.3" fill="#dd2a2f"/>
<polygon points="621.9,948.6 619.3,937.6 624.5,937.6" fill="#dd2a2f"/>
<text x="617.8" y="935.76" stroke="#fff" stroke-width="0.2549999999999992" font-family="Liberation Sans" font-size="21.25" font-weight="normal" fill="#1a1a1a" text-anchor="start" style="white-space:pre" transform="rotate(-90 617.8 935.76)" textLength="14.72" lengthAdjust="spacingAndGlyphs" >8</text>
<line x1="585.6" y1="948.9" x2="672.2" y2="948.9" stroke="#dd2a2f" stroke-width="1.2" />
<line x1="613.3" y1="1024" x2="672.2" y2="1024" stroke="#dd2a2f" stroke-width="1.2" />
<line x1="657.8" y1="948.9" x2="657.8" y2="1024" stroke="#dd2a2f" stroke-width="1.2" />
<polygon points="657.8,948.9 660.4,961.9 655.2,961.9" fill="#dd2a2f"/>
<polygon points="657.8,1024 655.2,1011 660.4,1011" fill="#dd2a2f"/>
<text x="654.4" y="1000.95" stroke="#fff" stroke-width="0.27666666666666706" font-family="Liberation Sans" font-size="23.06" font-weight="normal" fill="#1a1a1a" text-anchor="start" style="white-space:pre" transform="rotate(-90 654.4 1000.95)" textLength="28.48" lengthAdjust="spacingAndGlyphs" >15</text>
<line x1="743.3" y1="834.6" x2="947" y2="834.6" stroke="#dd2a2f" stroke-width="1.2" />
<line x1="743.3" y1="834.6" x2="705.4" y2="891.7" stroke="#dd2a2f" stroke-width="1.2" />
<polygon points="705.4,891.7 710.42,879.43 714.76,882.31" fill="#dd2a2f"/>
<text x="743.35" y="831.4" stroke="#fff" stroke-width="0.23749999999999918" font-family="Liberation Sans" font-size="19" font-weight="normal" fill="#1a1a1a" text-anchor="start" style="white-space:pre" textLength="200.27" lengthAdjust="spacingAndGlyphs" >TERMINAL  BOX  COVER</text>
<line x1="760.4" y1="1003.7" x2="833.7" y2="1003.7" stroke="#dd2a2f" stroke-width="1.2" />
<line x1="760.4" y1="1003.7" x2="731.9" y2="908" stroke="#dd2a2f" stroke-width="1.2" />
<polygon points="731.9,908 738.1,919.72 733.12,921.2" fill="#dd2a2f"/>
<text x="764.39" y="1000.5" stroke="#fff" stroke-width="0.2535714285714294" font-family="Liberation Sans" font-size="20.29" font-weight="normal" fill="#1a1a1a" text-anchor="start" style="white-space:pre" textLength="65.93" lengthAdjust="spacingAndGlyphs" >GASKET</text>
</svg></body></html>
